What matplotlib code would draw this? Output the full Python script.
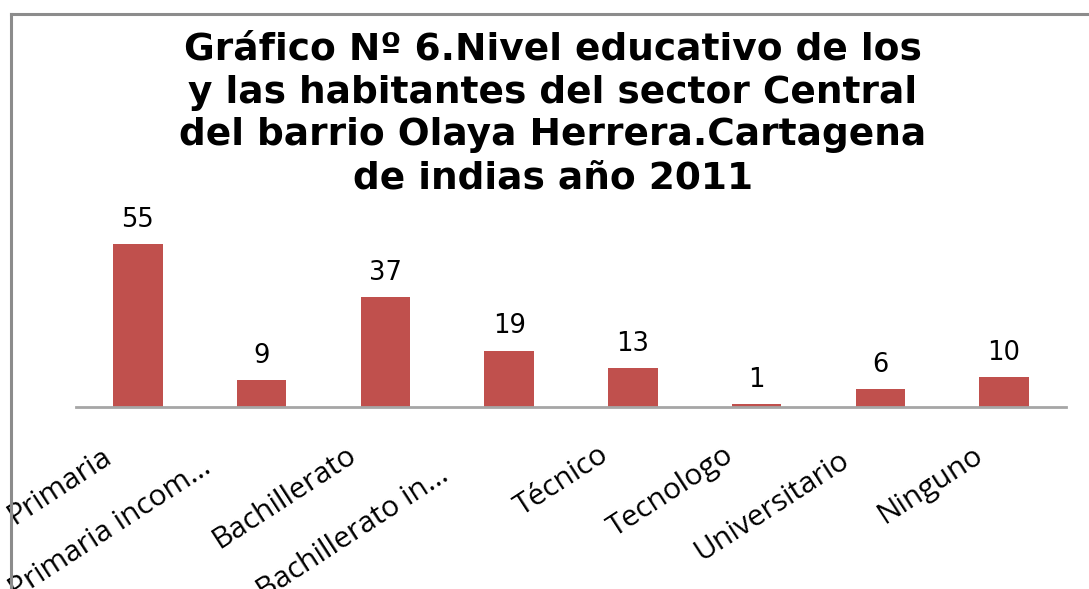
import matplotlib
matplotlib.use("Agg")
import matplotlib.pyplot as plt
from matplotlib.lines import Line2D
import matplotlib.transforms as mtransforms

categories = ["Primaria", "Primaria incom…", "Bachillerato", "Bachillerato in…",
              "Técnico", "Tecnologo", "Universitario", "Ninguno"]
values = [55, 9, 37, 19, 13, 1, 6, 10]
title = ("Gráfico Nº 6.Nivel educativo de los\n"
         "y las habitantes del sector Central\n"
         "del barrio Olaya Herrera.Cartagena\n"
         "de indias año 2011")

# label placement offsets in pixels (right end of each label relative to bar centre / axis)
label_dx = [-25, -49, -28, -59, -23, -22, -30, -20]
label_dy = [54, 64, 52, 72, 52, 52, 57, 52]

W, H = 1089, 589
fig = plt.figure(figsize=(W / 100, H / 100), dpi=100)
fig.patch.set_facecolor("white")

# border lines (top and left)
fig.add_artist(Line2D([11 / W, 1.0], [1 - 14 / H, 1 - 14 / H], color="#8c8c8c", lw=2.2))
fig.add_artist(Line2D([11 / W, 11 / W], [0, 1 - 14 / H], color="#8c8c8c", lw=2.2))

ax_left, ax_right = 76 / W, 1066 / W
ax_bottom = 1 - 407 / H
ax_h = 0.40
ax = fig.add_axes([ax_left, ax_bottom, ax_right - ax_left, ax_h])
ymax = ax_h * H / 2.965
x = list(range(len(categories)))
ax.bar(x, values, width=0.40, color="#C0504D")
ax.set_xlim(-0.5, len(categories) - 0.5)
ax.set_ylim(0, ymax)
for s in ["top", "right", "left"]:
    ax.spines[s].set_visible(False)
ax.spines["bottom"].set_color("#a6a6a6")
ax.spines["bottom"].set_linewidth(2)
ax.set_yticks([])
ax.set_xticks([])

for xi, v in zip(x, values):
    ax.annotate(str(v), (xi, v), xytext=(0, 12.5), textcoords="offset points",
                ha="center", va="baseline", fontsize=18.5, family="DejaVu Sans",
                color="black")

for xi, lab, dx, dy in zip(x, categories, label_dx, label_dy):
    tr = ax.get_xaxis_transform() + mtransforms.ScaledTranslation(dx / 100, -dy / 100, fig.dpi_scale_trans)
    ax.text(xi, 0, lab, transform=tr, rotation=33, rotation_mode="anchor",
            ha="right", va="baseline", fontsize=21.5, family="Open Sans", color="black")

fig.text(553 / W, 1 - 32 / H, title, ha="center", va="top", fontsize=27,
         fontweight="bold", family="DejaVu Sans", linespacing=1.24)

fig.savefig("out.png", dpi=100)
